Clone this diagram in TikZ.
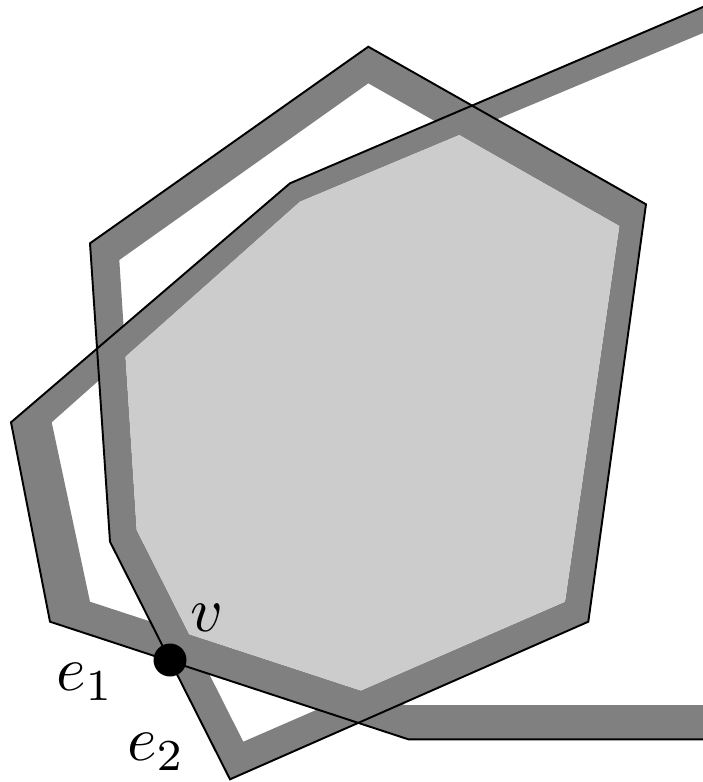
\documentclass[tikz,border=0pt]{standalone}
\usepackage{graphicx}
\usepackage{xcolor}

\definecolor{bandgray}{gray}{0.5}
\definecolor{coregray}{gray}{0.8}

\tikzset{
  outline/.style={draw=black, line width=1.1pt, line join=miter},
  band/.style={fill=bandgray, even odd rule},
  core/.style={fill=coregray},
  vertex/.style={circle, fill=black, inner sep=0pt, minimum size=0.66cm},
  lbl/.style={inner sep=0pt}
}
\newcommand{\biglbl}[1]{\scalebox{3.6}{#1}}

\begin{document}
\begin{tikzpicture}[x=0.02cm, y=-0.02cm]
\useasboundingbox (0,0) rectangle (703,782);
\clip (0,0) rectangle (703,782);

% polygon A: outer and inner corners
\coordinate (a1) at (368.3,46.7);
\coordinate (a2) at (646,204.3);
\coordinate (a3) at (588.3,621.7);
\coordinate (a4) at (230,779.3);
\coordinate (a5) at (110,541.7);
\coordinate (a6) at (90,243.3);
\coordinate (ai1) at (368.3,83.3);
\coordinate (ai2) at (619.3,226);
\coordinate (ai3) at (565,601.7);
\coordinate (ai4) at (243.3,741.7);
\coordinate (ai5) at (136.7,530);
\coordinate (ai6) at (119.3,260);

% polygon B: runs off the right side
\coordinate (b0) at (720,-0.3);
\coordinate (b1) at (290,183.3);
\coordinate (b2) at (11,422.3);
\coordinate (b3) at (50,621.7);
\coordinate (b4) at (408.3,739.3);
\coordinate (b5) at (720,739.3);
\coordinate (bi0) at (720,25.9);
\coordinate (bi1) at (300,201.7);
\coordinate (bi2) at (51.7,422.3);
\coordinate (bi3) at (90,601.7);
\coordinate (bi4) at (405,705);
\coordinate (bi5) at (720,705);

% bands
\fill[band] (a1) -- (a2) -- (a3) -- (a4) -- (a5) -- (a6) -- cycle
  (ai1) -- (ai2) -- (ai3) -- (ai4) -- (ai5) -- (ai6) -- cycle;
\fill[band] (b0) -- (b1) -- (b2) -- (b3) -- (b4) -- (b5) -- cycle
  (bi0) -- (bi1) -- (bi2) -- (bi3) -- (bi4) -- (bi5) -- cycle;

% common inner part
\begin{scope}
  \clip (ai1) -- (ai2) -- (ai3) -- (ai4) -- (ai5) -- (ai6) -- cycle;
  \fill[core] (bi0) -- (bi1) -- (bi2) -- (bi3) -- (bi4) -- (bi5) -- cycle;
\end{scope}

% boundaries
\draw[outline] (a1) -- (a2) -- (a3) -- (a4) -- (a5) -- (a6) -- cycle;
\draw[outline] (b0) -- (b1) -- (b2) -- (b3) -- (b4) -- (b5);

\node[vertex] (v) at (170,660) {};
\node[lbl] (vlabel) at (206.7,618.3) {\biglbl{$v$}};
\node[lbl] (e1label) at (85,682) {\biglbl{$e_1$}};
\node[lbl] (e2label) at (156,752) {\biglbl{$e_2$}};
\end{tikzpicture}
\end{document}
